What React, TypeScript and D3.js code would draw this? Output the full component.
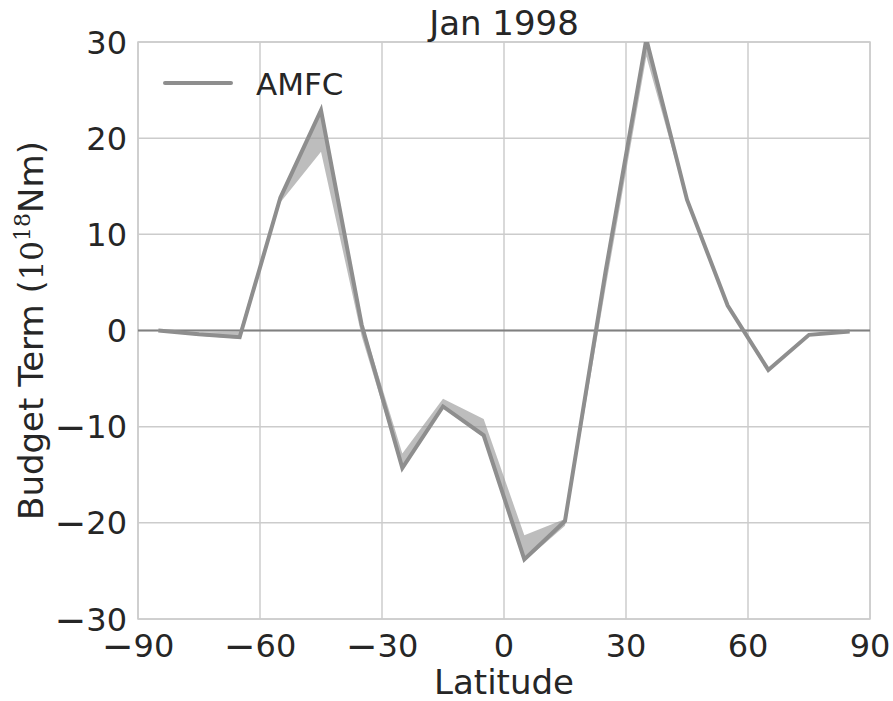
import React from "react";
import * as d3 from "d3";

// Zonal-band latitudes (band centres, degrees)
const latitudes = [-85, -75, -65, -55, -45, -35, -25, -15, -5, 5, 15, 25, 35, 45, 55, 65, 75, 85];
// AMFC budget term (10^18 Nm)
const amfc = [0, -0.4, -0.7, 13.8, 22.9, 0.6, -14.3, -7.9, -10.9, -23.8, -19.8, 6.2, 30.3, 13.6, 2.6, -4.1, -0.45, -0.1];
// Spread of the term across members
const amfcLow = [-0.05, -0.55, -0.85, 13.3, 18.6, -0.6, -14.5, -8.0, -11.1, -24.0, -20.3, 4.5, 28.5, 13.4, 2.5, -4.2, -0.5, -0.15];
const amfcHigh = [0.05, -0.2, -0.1, 14.1, 23.0, 1.0, -12.8, -7.1, -9.2, -21.3, -19.6, 6.5, 30.4, 13.7, 2.7, -4.0, -0.4, -0.05];

const xTicks = [-90, -60, -30, 0, 30, 60, 90];
const yTicks = [-30, -20, -10, 0, 10, 20, 30];

const W = 893;
const H = 701;
const M = { left: 138, right: 870, top: 42, bottom: 619 };
const FONT = "DejaVu Sans, sans-serif";
const TEXT = "#262626";

// Tick label with a long typographic minus sign
function TickText(props: { v: number; [k: string]: any }) {
  const { v, ...rest } = props;
  return (
    <text {...rest}>
      {v < 0 ? (
        <>
          <tspan fontSize={38} dy={2}>{"\u2212"}</tspan>
          <tspan dy={-2}>{String(Math.abs(v))}</tspan>
        </>
      ) : (
        String(v)
      )}
    </text>
  );
}

export default function App() {
  const x = d3.scaleLinear().domain([-90, 90]).range([M.left, M.right]);
  const y = d3.scaleLinear().domain([-30, 30]).range([M.bottom, M.top]);

  const rows = latitudes.map((lat, i) => ({ lat, v: amfc[i], lo: amfcLow[i], hi: amfcHigh[i] }));
  const line = d3
    .line<(typeof rows)[number]>()
    .x((d) => x(d.lat))
    .y((d) => y(d.v));
  const band = d3
    .area<(typeof rows)[number]>()
    .x((d) => x(d.lat))
    .y0((d) => y(d.lo))
    .y1((d) => y(d.hi));

  return (
    <svg
      width={W}
      height={H}
      style={{ position: "absolute", left: 0, top: 0, background: "#fff" }}
      fontFamily={FONT}
    >
      <defs>
        <clipPath id="plot">
          <rect x={M.left} y={M.top} width={M.right - M.left} height={M.bottom - M.top} />
        </clipPath>
      </defs>

      {/* grid */}
      {xTicks.map((t) => (
        <line key={"gx" + t} x1={x(t)} x2={x(t)} y1={M.top} y2={M.bottom} stroke="#cccccc" strokeWidth={1.5} />
      ))}
      {yTicks.map((t) => (
        <line key={"gy" + t} x1={M.left} x2={M.right} y1={y(t)} y2={y(t)} stroke="#cccccc" strokeWidth={1.5} />
      ))}
      <rect
        x={M.left}
        y={M.top}
        width={M.right - M.left}
        height={M.bottom - M.top}
        fill="none"
        stroke="#cccccc"
        strokeWidth={1.5}
      />

      {/* zero line */}
      <line x1={M.left} x2={M.right} y1={y(0)} y2={y(0)} stroke="#808080" strokeWidth={2} />

      <g clipPath="url(#plot)">
        <path d={band(rows) ?? ""} fill="#9a9a9a" fillOpacity={0.65} stroke="none" />
        <path d={line(rows) ?? ""} fill="none" stroke="#8e8e8e" strokeWidth={4} strokeLinejoin="miter" />
      </g>

      {/* x tick labels */}
      {xTicks.map((t) => (
        <TickText key={"tx" + t} v={t} x={x(t)} y={657} textAnchor="middle" fontSize={32} fill={TEXT} />
      ))}
      {/* y tick labels */}
      {yTicks.map((t) => (
        <TickText key={"ty" + t} v={t} x={127} y={y(t) + 11.5} textAnchor="end" fontSize={32} fill={TEXT} />
      ))}

      {/* title */}
      <text x={(M.left + M.right) / 2} y={35} textAnchor="middle" fontSize={34} fill={TEXT}>
        Jan 1998
      </text>

      {/* axis labels */}
      <text x={(M.left + M.right) / 2} y={694} textAnchor="middle" fontSize={34} fill={TEXT}>
        Latitude
      </text>
      <text
        transform={`translate(43, ${(M.top + M.bottom) / 2}) rotate(-90)`}
        textAnchor="middle"
        fontSize={34}
        fill={TEXT}
      >
        Budget Term (
        <tspan fontFamily="DejaVu Serif, serif" fontSize={31}>10</tspan>
        <tspan fontFamily="DejaVu Serif, serif" fontSize={22} dy={-13}>18</tspan>
        <tspan dy={13}>Nm)</tspan>
      </text>

      {/* legend */}
      <line x1={165} x2={231} y1={83} y2={83} stroke="#8e8e8e" strokeWidth={4} strokeLinecap="round" />
      <text x={256} y={95} fontSize={31} fill={TEXT}>
        AMFC
      </text>
    </svg>
  );
}
